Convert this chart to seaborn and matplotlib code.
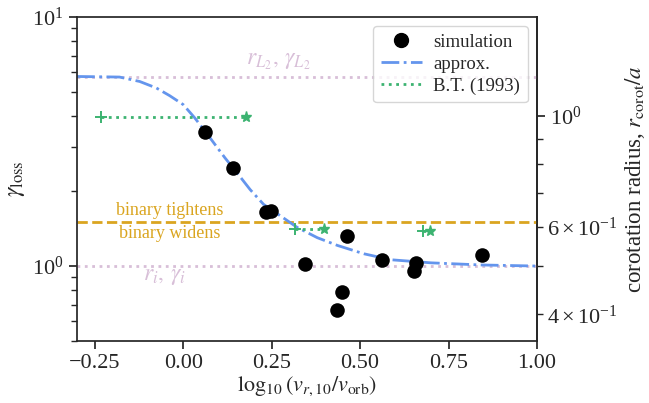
import numpy as np
import seaborn as sns
import matplotlib.pyplot as plt
from matplotlib.lines import Line2D

# simulation points
sim_x = [0.062, 0.141, 0.235, 0.248, 0.345, 0.462, 0.450, 0.436, 0.561, 0.658, 0.652, 0.846]
sim_gamma = [3.44, 2.47, 1.65, 1.67, 1.02, 1.315, 0.789, 0.667, 1.057, 1.028, 0.957, 1.106]

# approx. curve
approx_x = [-0.30, -0.18, -0.123, -0.076, -0.038, 0.0, 0.033, 0.076, 0.118, 0.152, 0.189,
            0.227, 0.275, 0.322, 0.379, 0.436, 0.511, 0.587, 0.701, 0.843, 1.0]
approx_gamma = [5.77, 5.74, 5.51, 5.19, 4.83, 4.45, 3.93, 3.27, 2.72, 2.37, 2.03,
                1.77, 1.59, 1.43, 1.30, 1.21, 1.12, 1.06, 1.03, 1.01, 1.00]

# B.T. (1993) segments: start (+) -> end (*)
bt_x0 = [-0.233, 0.317, 0.678]
bt_x1 = [0.178, 0.397, 0.698]
bt_gamma = [3.98, 1.415, 1.38]

gamma_L2 = 5.76
gamma_i = 1.0
gamma_split = 1.5

x_ticks = [-0.25, 0.0, 0.25, 0.5, 0.75, 1.0]
x_ticklabels = ['\u22120.25', '0.00', '0.25', '0.50', '0.75', '1.00']

sns.set_theme(style="ticks")
plt.rcParams['font.family'] = ['Liberation Serif', 'DejaVu Serif']
plt.rcParams['mathtext.fontset'] = 'stix'

fig = plt.figure(figsize=(6.49, 4.03), dpi=100)
ax = fig.add_axes([0.1187, 0.1538, 0.7087, 0.804])

ax.axhline(gamma_L2, color='thistle', ls=':', lw=2, zorder=1)
ax.axhline(gamma_i, color='thistle', ls=':', lw=2, zorder=1)
ax.axhline(gamma_split, color='goldenrod', ls='--', lw=2, zorder=1)

sns.lineplot(x=approx_x, y=approx_gamma, sort=False, color='cornflowerblue',
             linestyle='-.', lw=2, ax=ax, zorder=2)

for x0, x1, g in zip(bt_x0, bt_x1, bt_gamma):
    sns.lineplot(x=[x0, x1], y=[g, g], color='mediumseagreen', linestyle=':', lw=2, ax=ax, zorder=2)
    ax.plot(x0, g, marker='+', color='mediumseagreen', ms=8, mew=1.4, ls='none', zorder=3)
    ax.plot(x1, g, marker='*', color='mediumseagreen', ms=8, ls='none', zorder=3)

sns.scatterplot(x=sim_x, y=sim_gamma, color='black', s=110, linewidth=0, ax=ax, zorder=4)

ax.set_yscale('log')
ax.set_xlim(-0.3, 1.0)
ax.set_ylim(0.5, 10)
ax.set_xticks(x_ticks)
ax.set_xticklabels(x_ticklabels)

ax.text(-0.038, 1.675, 'binary tightens', color='goldenrod', fontsize=13, ha='center', va='center')
ax.text(-0.038, 1.355, 'binary widens', color='goldenrod', fontsize=13, ha='center', va='center')
ax.text(0.268, 6.6, r'$r_{L_2},\, \gamma_{L_2}$', color='thistle', fontsize=17, ha='center', va='center')
ax.text(-0.052, 0.91, r'$r_i,\, \gamma_i$', color='thistle', fontsize=17, ha='center', va='center')

ax.set_xlabel(r'$\log_{10}(v_{r,10}/v_{\rm orb})$', fontsize=16, labelpad=1)
ax.set_ylabel(r'$\gamma_{\rm loss}$', fontsize=17)
ax.tick_params(labelsize=16)

sec = ax.secondary_yaxis('right', functions=(lambda g: np.sqrt(np.clip(g, 1e-9, None) / 4.0),
                                             lambda r: 4.0 * r ** 2))
sec.set_ylabel(r'corotation radius, $r_{\rm corot}/a$', fontsize=16.5)
sec.tick_params(labelsize=16, which='both')

handles = [
    Line2D([], [], marker='o', color='black', ls='none', ms=10),
    Line2D([], [], color='cornflowerblue', ls='-.', lw=2),
    Line2D([], [], color='mediumseagreen', ls=':', lw=2),
]
ax.legend(handles, ['simulation', 'approx.', 'B.T. (1993)'], loc='upper right', fontsize=13.5,
          handlelength=2.2, borderpad=0.4, labelspacing=0.25, handletextpad=0.6)

fig.savefig('out.png', dpi=100)
